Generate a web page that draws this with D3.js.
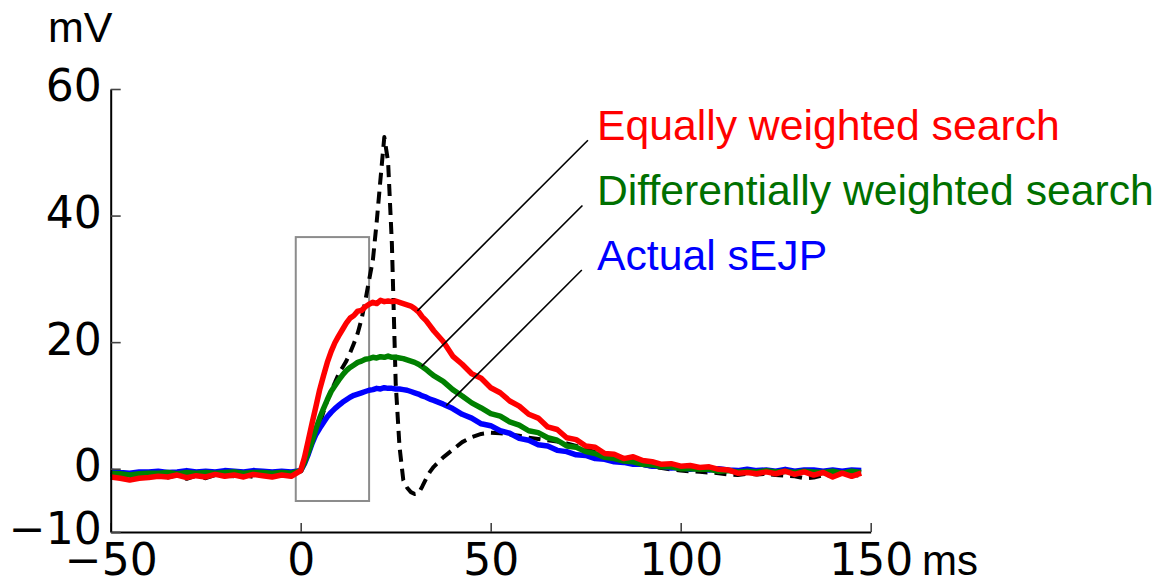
<!DOCTYPE html>
<html>
<head>
<meta charset="utf-8">
<script src="https://cdn.jsdelivr.net/npm/d3@7"></script>
<style>
  body { margin: 0; background: #fff; }
  svg { display: block; }
</style>
</head>
<body>
<svg id="chart" width="1172" height="579"></svg>
<script>
// time grid (ms): coarse before the stimulus, 1 ms through the spike, coarse after
const timesPre = [-50, -47.5, -45, -42.5, -40, -37.5, -35, -32.5, -30, -27.5, -25, -22.5, -20, -17.5, -15, -12.5, -10, -7.5, -5, -2.5]
const timesRise = [0, 1, 2, 3, 4, 5, 6, 7, 8, 9, 10, 11, 12, 13, 14, 15, 16, 17, 18, 19, 20, 21, 22, 23, 24, 25, 26, 27, 28, 29, 30, 31, 32, 33, 34, 35]
const timesDecay = [37.5, 40, 42.5, 45, 47.5, 50, 52.5, 55, 57.5, 60, 62.5, 65, 67.5, 70, 72.5, 75, 77.5, 80, 82.5, 85, 87.5, 90, 92.5, 95, 97.5, 100, 102.5, 105, 107.5, 110, 112.5, 115, 117.5, 120, 122.5, 125, 127.5, 130, 132.5, 135, 137.5, 140, 142.5, 145, 147.5]
const times = timesPre.concat(timesRise, timesDecay)

// mV, one value per time point
const modelTrace = [
  -1.0, -1.1, -1.2, -1.1, -1.0, -1.2, -1.4, -1.0, -1.6, -1.1, -1.5, -1.0, -1.1, -1.2, -1.0, -1.3, -1.1, -0.9, -1.0, -1.1,
  -0.3, 1.0, 2.5, 4.0, 5.5, 7.0, 9.0, 10.8, 12.3, 13.6, 15.0, 16.0, 17.0, 18.3, 19.8, 21.4, 23.6, 26.5, 29.8, 33.0,
  39.0, 45.8, 52.4, 48.5, 35.5, 13.5, 3.5, -1.8, -3.0, -3.7, -4.0, -3.9, -2.8, -1.6, -0.5, 0.3,
  1.8, 3.0, 4.2, 5.0, 5.5, 5.7, 5.6, 5.4, 5.2, 4.9, 4.7, 4.5, 4.3, 4.0, 3.6, 3.1, 2.6, 2.1, 1.6, 1.3, 1.0, 0.6, 0.3, 0.1,
  -0.1, -0.3, -0.4, -0.5, -0.6, -0.7, -0.9, -1.0, -0.8, -0.9, -0.8, -1.0, -1.1, -1.2, -1.5, -1.4, -1.0, -1.1, -0.9, -1.0, -1.1
]
const actualSEJP = [
  -0.4, -0.6, -0.7, -0.5, -0.5, -0.4, -0.6, -0.5, -0.3, -0.5, -0.4, -0.5, -0.3, -0.4, -0.5, -0.3, -0.4, -0.5, -0.4, -0.5,
  -0.3, 0.8, 2.3, 4.0, 5.4, 6.4, 7.3, 8.2, 8.9, 9.5, 10.0, 10.5, 10.9, 11.3, 11.6, 11.8, 12.0, 12.2, 12.4, 12.5,
  12.7, 12.6, 12.8, 12.7, 12.7, 12.6, 12.6, 12.5, 12.4, 12.2, 12.0, 11.8, 11.5, 11.3, 11.0, 10.8,
  10.2, 9.5, 8.6, 8.0, 7.1, 6.8, 6.0, 5.6, 4.8, 4.5, 3.8, 3.6, 2.9, 2.7, 2.2, 2.1, 1.6, 1.5, 1.1, 1.0, 0.7, 0.7, 0.4, 0.4,
  0.1, 0.2, -0.1, 0.1, -0.2, 0.0, -0.2, -0.3, -0.1, -0.3, -0.2, -0.4, -0.1, -0.4, -0.2, -0.2, -0.4, -0.2, -0.4, -0.2, -0.3
]
const diffWeighted = [
  -0.7, -0.8, -1.0, -0.8, -0.7, -0.7, -0.6, -0.8, -0.6, -0.7, -0.6, -0.7, -0.6, -0.5, -0.7, -0.6, -0.6, -0.7, -0.6, -0.7,
  -0.3, 1.0, 2.6, 4.3, 6.3, 8.0, 9.5, 10.9, 12.2, 13.1, 14.0, 14.8, 15.5, 16.0, 16.4, 16.8, 17.0, 17.3, 17.4, 17.6,
  17.5, 17.7, 17.6, 17.8, 17.6, 17.6, 17.5, 17.4, 17.2, 17.0, 16.8, 16.5, 16.1, 15.7, 15.2, 14.7,
  13.8, 12.5, 11.5, 10.4, 9.6, 8.7, 8.3, 7.4, 6.9, 6.0, 5.7, 4.9, 4.5, 3.6, 3.4, 2.7, 2.4, 1.8, 1.6, 1.2, 1.1, 0.7, 0.6, 0.3,
  0.3, 0.0, 0.0, -0.1, -0.1, -0.4, -0.3, -0.5, -0.4, -0.5, -0.3, -0.5, -0.4, -0.6, -0.4, -0.5, -0.6, -0.4, -0.7, -0.4, -0.6
]
const equalWeighted = [
  -1.3, -1.5, -1.8, -1.5, -1.4, -1.2, -1.3, -1.0, -1.4, -1.1, -1.3, -0.9, -1.2, -1.0, -1.3, -0.9, -1.1, -1.3, -1.0, -1.2,
  -0.3, 1.8, 4.5, 7.2, 9.8, 12.5, 14.7, 16.8, 18.5, 19.9, 21.0, 22.0, 23.0, 23.8, 24.2, 24.9, 25.0, 25.6, 26.0, 26.3,
  26.1, 26.6, 26.4, 26.5, 26.4, 26.5, 26.3, 26.1, 25.9, 25.7, 25.3, 24.8, 24.0, 23.4, 22.6, 21.8,
  20.1, 17.8, 16.5, 15.0, 14.3, 12.8, 12.0, 10.7, 9.9, 8.6, 8.0, 6.6, 6.2, 4.9, 4.6, 3.6, 3.4, 2.4, 2.3, 1.6, 1.9, 1.3, 1.1, 0.7,
  0.8, 0.4, 0.5, 0.2, 0.3, -0.1, -0.2, -0.7, -0.6, -0.8, -0.5, -0.8, -0.4, -0.9, -0.5, -1.0, -0.6, -1.3, -0.7, -1.2, -0.7
]

const xTicks = [-50, 0, 50, 100, 150]
const yTicks = [-10, 0, 20, 40, 60]

// zoom box drawn on the rising phase: [t0, t1] ms, [v0, v1] mV
const boxTimes = [-1.3, 18]
const boxVolts = [-5.1, 36.6]

const labels = ['Equally weighted search', 'Differentially weighted search', 'Actual sEJP']
const labelColors = ['#ff0000', '#007000', '#0000ff']
// label baseline (mV) and the time (ms) on the curve where the pointer ends
const labelVolts = [51.9, 41.6, 31.4]
const pointerTimes = [30.7, 31.8, 38.3]

const svg = d3.select('#chart')

const x = d3.scaleLinear().domain([-50, 150]).range([110.7, 870.7])
const y = d3.scaleLinear().domain([-10, 60]).range([532, 89])

const tickFont = '"DejaVu Sans", sans-serif'
const textFont = '"Liberation Sans", Arial, sans-serif'

// rectangle first so the traces sit on top of it
svg.append('rect')
  .attr('x', x(boxTimes[0]))
  .attr('y', y(boxVolts[1]))
  .attr('width', x(boxTimes[1]) - x(boxTimes[0]))
  .attr('height', y(boxVolts[0]) - y(boxVolts[1]))
  .attr('fill', 'none')
  .attr('stroke', '#8c8c8c')
  .attr('stroke-width', 2)

const line = d3.line()
  .x((d) => x(d[0]))
  .y((d) => y(d[1]))

const series = [
  { values: modelTrace, color: '#000', width: 4, dash: '12 7' },
  { values: actualSEJP, color: '#0000ff', width: 5.5, dash: null },
  { values: diffWeighted, color: '#008000', width: 5.5, dash: null },
  { values: equalWeighted, color: '#ff0000', width: 5.5, dash: null }
]

svg.append('g')
  .selectAll('path')
  .data(series)
  .enter()
  .append('path')
  .attr('d', (s) => line(times.map((t, i) => [t, s.values[i]])))
  .attr('fill', 'none')
  .attr('stroke', (s) => s.color)
  .attr('stroke-width', (s) => s.width)
  .attr('stroke-dasharray', (s) => s.dash)
  .attr('stroke-linejoin', 'round')

// pointer lines from the labels down to their traces
const traceFor = [equalWeighted, diffWeighted, actualSEJP]
const ann = svg.append('g')
labels.forEach((txt, i) => {
  const t = pointerTimes[i]
  const v = d3.scaleLinear().domain(times).range(traceFor[i])(t)
  const x1 = x(t)
  const y1 = y(v)
  const y2 = y(labelVolts[i])
  // pointers run at 45 degrees on screen
  const x2 = x1 + (y1 - y2)
  ann.append('line')
    .attr('x1', x1).attr('y1', y1)
    .attr('x2', x2).attr('y2', y2)
    .attr('stroke', '#000')
    .attr('stroke-width', 1.6)
  ann.append('text')
    .attr('x', 597)
    .attr('y', y2)
    .attr('fill', labelColors[i])
    .style('font-family', textFont)
    .style('font-size', '42.7px')
    .text(txt)
})

const xAxis = svg.append('g')
  .attr('transform', `translate(0,${y(-10)})`)
  .call(d3.axisBottom(x).tickValues(xTicks).tickSizeInner(-9).tickSizeOuter(0).tickPadding(12))

const yAxis = svg.append('g')
  .attr('transform', `translate(${x(-50)},0)`)
  .call(d3.axisLeft(y).tickValues(yTicks).tickSizeInner(-10).tickSizeOuter(0).tickPadding(9))

for (const g of [xAxis, yAxis]) {
  g.select('.domain').attr('stroke', '#000').attr('stroke-width', 2)
  g.selectAll('.tick line').attr('stroke', '#444').attr('stroke-width', 1.6)
  g.selectAll('.tick text')
    .attr('fill', '#000')
    .style('font-family', tickFont)
    .style('font-size', '44px')
}
yAxis.selectAll('.tick text').attr('dy', '0.27em')

svg.append('text')
  .attr('x', 48).attr('y', 42)
  .style('font-family', textFont)
  .style('font-size', '43px')
  .text('mV')

svg.append('text')
  .attr('x', 922).attr('y', 575)
  .style('font-family', textFont)
  .style('font-size', '42px')
  .text('ms')
</script>
</body>
</html>
